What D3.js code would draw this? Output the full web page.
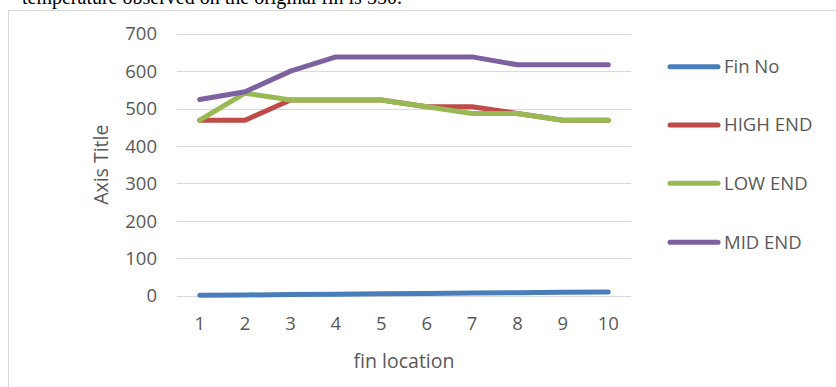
<!DOCTYPE html>
<html><head><meta charset="utf-8">
<script src="https://cdn.jsdelivr.net/npm/d3@7"></script>
<style>
html,body{margin:0;padding:0;background:#fff;overflow:hidden;}
svg{display:block;}
</style></head>
<body>
<svg id="chart" width="836" height="387"></svg>
<script>
const categories = ["1","2","3","4","5","6","7","8","9","10"];
const finNo   = [1,2,3,4,5,6,7,8,9,10];
const highEnd = [469,469,523,523,523,505,505,487,469,469];
const lowEnd  = [469,541,523,523,523,505,487,487,469,469];
const midEnd  = [524,545,600,638,638,638,638,617,617,617];
const seriesNames = ["Fin No","HIGH END","LOW END","MID END"];
const seriesColors = ["#4a7ebb","#be4b48","#98b954","#7d60a0"];
const yTicks = [0,100,200,300,400,500,600,700];
const xTitle = "fin location";
const yTitle = "Axis Title";
const captionText = "temperature observed on the original fin is 350.";

const seriesValues = [finNo, highEnd, lowEnd, midEnd];
const svg = d3.select("#chart");
const font = "'Open Sans', 'DejaVu Sans', sans-serif";
const textColor = "#595959";

// caption line above the chart frame (cropped at the top edge, as in the reference)
svg.append("text").attr("x", 22).attr("y", 4)
  .attr("font-family", "'Liberation Serif','Times New Roman',serif")
  .attr("font-size", 20).attr("fill", "#000").text(captionText);

// chart frame
svg.append("rect").attr("x", 8.5).attr("y", 10.5).attr("width", 900).attr("height", 500)
  .attr("fill", "#fff").attr("stroke", "#d9d9d9").attr("stroke-width", 1);

const plot = {left: 177, right: 631, top: 33.7, bottom: 295.7};
const x = d3.scaleBand().domain(categories).range([plot.left, plot.right]).padding(0);
const y = d3.scaleLinear().domain([0, 700]).range([plot.bottom, plot.top]);

// gridlines
svg.append("g").selectAll("line").data(yTicks).join("line")
  .attr("x1", plot.left).attr("x2", plot.right)
  .attr("y1", d => Math.round(y(d)) + 0.5).attr("y2", d => Math.round(y(d)) + 0.5)
  .attr("stroke", "#d9d9d9").attr("stroke-width", 1.2);

// y axis labels
const yAxis = svg.append("g").attr("transform", `translate(${plot.left - 20},0)`)
  .call(d3.axisLeft(y).tickValues(yTicks).tickSize(0).tickPadding(0));
yAxis.select(".domain").remove();
yAxis.selectAll("text").attr("font-family", font).attr("font-size", 18.5)
  .attr("fill", textColor).attr("dy", "0.34em");

// x axis labels
const xAxis = svg.append("g").attr("transform", `translate(0,${plot.bottom})`)
  .call(d3.axisBottom(x).tickSize(0).tickPadding(21));
xAxis.select(".domain").remove();
xAxis.selectAll("text").attr("font-family", font).attr("font-size", 18.5)
  .attr("fill", textColor);

// axis titles
svg.append("text").attr("x", (plot.left + plot.right) / 2).attr("y", 368)
  .attr("text-anchor", "middle").attr("font-family", font).attr("font-size", 19.5)
  .attr("fill", textColor).text(xTitle);
svg.append("text")
  .attr("transform", `translate(108,${(plot.top + plot.bottom) / 2}) rotate(-90)`)
  .attr("text-anchor", "middle").attr("font-family", font).attr("font-size", 19.5)
  .attr("fill", textColor).text(yTitle);

// lines
const line = d3.line().x((d, i) => x(categories[i]) + x.bandwidth() / 2).y(d => y(d));
svg.append("g").selectAll("path").data(seriesValues).join("path")
  .attr("d", d => line(d)).attr("fill", "none")
  .attr("stroke", (d, i) => seriesColors[i]).attr("stroke-width", 5)
  .attr("stroke-linecap", "round").attr("stroke-linejoin", "round");

// legend
const legendY = [66.7, 125, 183.3, 242.3];
const lg = svg.append("g").selectAll("g").data(seriesNames).join("g")
  .attr("transform", (d, i) => `translate(0,${legendY[i]})`);
lg.append("line").attr("x1", 670).attr("x2", 718).attr("y1", 0).attr("y2", 0)
  .attr("stroke", (d, i) => seriesColors[i]).attr("stroke-width", 5).attr("stroke-linecap", "round");
lg.append("text").attr("x", 724).attr("y", 0).attr("dy", "0.35em")
  .attr("font-family", font).attr("font-size", 18.5).attr("fill", textColor).text(d => d);
</script>
</body></html>
